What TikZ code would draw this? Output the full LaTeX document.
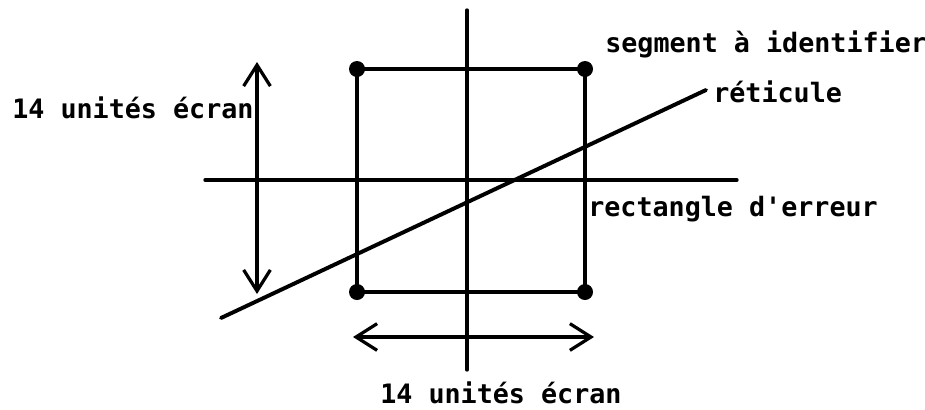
\documentclass[tikz,border=0pt]{standalone}
\usepackage{fontspec}
\newfontfamily\labelfont{DejaVu Sans Mono}
\usetikzlibrary{arrows.meta}

\tikzset{
  stroke/.style={line width=2.3pt, line cap=round},
  corner/.style={circle, fill, inner sep=0pt, minimum size=0.4cm},
  lbl/.style={anchor=base west, inner sep=0pt, font=\labelfont\bfseries\fontsize{19}{21}\selectfont},
}

\begin{document}
\begin{tikzpicture}[x=0.025cm, y=-0.025cm, >={Straight Barb[length=15pt, width=19pt]}]
  \useasboundingbox (0,0) rectangle (925,409);
  % axes of the screen
  \coordinate (vtop) at (467,10);
  \coordinate (vbot) at (467,370);
  \coordinate (hleft) at (205,180);
  \coordinate (hright) at (737,180);
  \draw[stroke] (vtop) -- (vbot);
  \draw[stroke] (hleft) -- (hright);
  % error rectangle
  \node[corner] (nw) at (357,69) {};
  \node[corner] (ne) at (585,69) {};
  \node[corner] (sw) at (357,292) {};
  \node[corner] (se) at (585,292) {};
  \draw[stroke] (nw.center) -- (ne.center) -- (se.center) -- (sw.center) -- cycle;
  % reticle
  \coordinate (rstart) at (221,318);
  \coordinate (rend) at (706,90);
  \draw[stroke, line width=2.8pt] (rstart) -- (rend);
  % dimension arrows
  \coordinate (dimup) at (257,62);
  \coordinate (dimdown) at (257,294);
  \coordinate (dimleft) at (353,337);
  \coordinate (dimright) at (594,337);
  \draw[stroke, <->] (dimup) -- (dimdown);
  \draw[stroke, <->] (dimleft) -- (dimright);
  % labels
  \node[lbl] (hdim) at (12,118) {14 unités écran};
  \node[lbl] (segment) at (605,52) {segment à identifier};
  \node[lbl] (reticle) at (713,102) {réticule};
  \node[lbl] (errrect) at (588,216) {rectangle d'erreur};
  \node[lbl] (wdim) at (380,403) {14 unités écran};
\end{tikzpicture}
\end{document}
